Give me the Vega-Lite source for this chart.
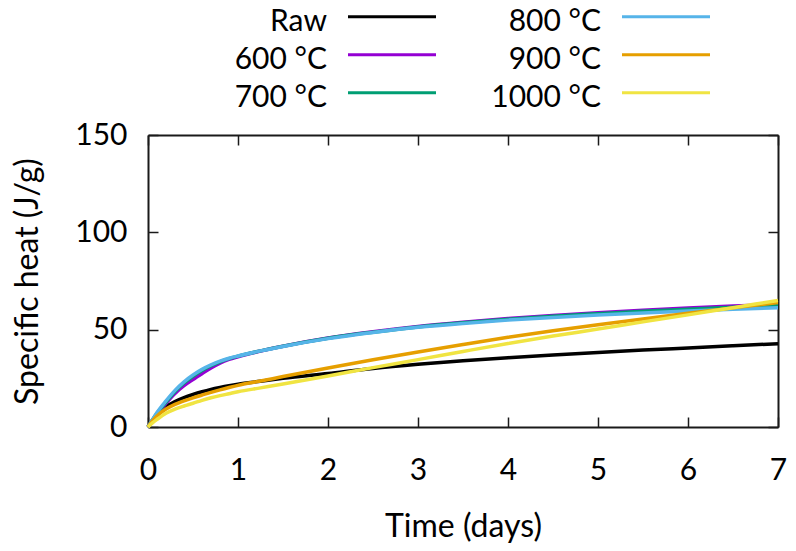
{
  "$schema": "https://vega.github.io/schema/vega-lite/v6.json",
  "width": 630,
  "height": 292,
  "autosize": {"type": "none"},
  "padding": {"left": 148, "top": 135, "right": 18, "bottom": 124},
  "background": "white",
  "config": {
    "view": {"stroke": null},
    "font": "Lato",
    "axis": {
      "labelFont": "Lato", "labelFontSize": 30, "labelColor": "#000000",
      "titleFont": "Lato", "titleFontSize": 32, "titleFontWeight": "normal", "titleColor": "#000000",
      "grid": false, "domainColor": "#1a1a1a", "domainWidth": 2,
      "tickColor": "#1a1a1a", "tickWidth": 1.5, "tickSize": -10
    }
  },
  "data": {
    "values": [
      {"t": 0, "Raw": 0, "600 °C": 0, "700 °C": 0, "800 °C": 0, "900 °C": 0, "1000 °C": 0},
      {"t": 0.05, "Raw": 3.6, "600 °C": 3.4, "700 °C": 3.6, "800 °C": 3.8, "900 °C": 3.1, "1000 °C": 2.1},
      {"t": 0.1, "Raw": 6.3, "600 °C": 6.6, "700 °C": 7.0, "800 °C": 7.4, "900 °C": 5.6, "1000 °C": 3.9},
      {"t": 0.2, "Raw": 10.4, "600 °C": 12.2, "700 °C": 12.8, "800 °C": 13.4, "900 °C": 9.2, "1000 °C": 7.1},
      {"t": 0.3, "Raw": 13.1, "600 °C": 17.2, "700 °C": 18.2, "800 °C": 18.8, "900 °C": 11.6, "1000 °C": 9.2},
      {"t": 0.4, "Raw": 15.1, "600 °C": 21.2, "700 °C": 22.6, "800 °C": 23.2, "900 °C": 13.4, "1000 °C": 10.8},
      {"t": 0.5, "Raw": 16.7, "600 °C": 24.4, "700 °C": 26.0, "800 °C": 26.7, "900 °C": 15.0, "1000 °C": 12.2},
      {"t": 0.6, "Raw": 18.1, "600 °C": 27.4, "700 °C": 29.0, "800 °C": 29.6, "900 °C": 16.4, "1000 °C": 13.7},
      {"t": 0.7, "Raw": 19.3, "600 °C": 30.3, "700 °C": 31.5, "800 °C": 31.9, "900 °C": 17.8, "1000 °C": 15.0},
      {"t": 0.8, "Raw": 20.3, "600 °C": 32.8, "700 °C": 33.5, "800 °C": 33.8, "900 °C": 19.1, "1000 °C": 16.1},
      {"t": 0.9, "Raw": 21.2, "600 °C": 34.7, "700 °C": 35.1, "800 °C": 35.3, "900 °C": 20.3, "1000 °C": 17.1},
      {"t": 1.0, "Raw": 22.0, "600 °C": 36.1, "700 °C": 36.4, "800 °C": 36.5, "900 °C": 21.4, "1000 °C": 18.1},
      {"t": 1.25, "Raw": 23.5, "600 °C": 39.0, "700 °C": 39.1, "800 °C": 39.1, "900 °C": 23.6, "1000 °C": 20.1},
      {"t": 1.5, "Raw": 25.0, "600 °C": 41.5, "700 °C": 41.5, "800 °C": 41.4, "900 °C": 25.9, "1000 °C": 22.1},
      {"t": 2, "Raw": 27.5, "600 °C": 45.7, "700 °C": 45.6, "800 °C": 45.4, "900 °C": 30.3, "1000 °C": 26.2},
      {"t": 2.5, "Raw": 30.1, "600 °C": 48.9, "700 °C": 48.7, "800 °C": 48.6, "900 °C": 34.5, "1000 °C": 30.5},
      {"t": 3, "Raw": 32.2, "600 °C": 51.6, "700 °C": 51.4, "800 °C": 51.2, "900 °C": 38.5, "1000 °C": 34.6},
      {"t": 3.5, "Raw": 34.0, "600 °C": 53.8, "700 °C": 53.5, "800 °C": 53.2, "900 °C": 42.4, "1000 °C": 38.8},
      {"t": 4, "Raw": 35.6, "600 °C": 55.7, "700 °C": 55.3, "800 °C": 54.9, "900 °C": 46.1, "1000 °C": 42.9},
      {"t": 4.5, "Raw": 37.0, "600 °C": 57.3, "700 °C": 56.9, "800 °C": 56.3, "900 °C": 49.4, "1000 °C": 46.7},
      {"t": 5, "Raw": 38.3, "600 °C": 58.7, "700 °C": 58.2, "800 °C": 57.5, "900 °C": 52.5, "1000 °C": 50.3},
      {"t": 5.5, "Raw": 39.5, "600 °C": 60.0, "700 °C": 59.4, "800 °C": 58.6, "900 °C": 55.5, "1000 °C": 54.0},
      {"t": 6, "Raw": 40.6, "600 °C": 61.1, "700 °C": 60.5, "800 °C": 59.6, "900 °C": 58.4, "1000 °C": 57.6},
      {"t": 6.5, "Raw": 41.7, "600 °C": 62.1, "700 °C": 61.5, "800 °C": 60.5, "900 °C": 61.2, "1000 °C": 61.3},
      {"t": 7, "Raw": 42.8, "600 °C": 63.0, "700 °C": 62.3, "800 °C": 61.3, "900 °C": 63.9, "1000 °C": 65.0}
    ]
  },
  "transform": [
    {"fold": ["Raw", "600 °C", "700 °C", "800 °C", "900 °C", "1000 °C"], "as": ["series", "value"]}
  ],
  "layer": [
    {
      "mark": {"type": "line", "interpolate": "monotone", "strokeWidth": 3.5},
      "encoding": {
        "x": {
          "field": "t", "type": "quantitative",
          "scale": {"domain": [0, 7], "nice": false, "zero": false},
          "axis": {"orient": "bottom", "values": [0, 1, 2, 3, 4, 5, 6, 7], "title": "Time (days)", "labelPadding": 38, "titlePadding": 26, "labelFlush": false}
        },
        "y": {
          "field": "value", "type": "quantitative",
          "scale": {"domain": [0, 150], "nice": false},
          "axis": {"orient": "left", "values": [0, 50, 100, 150], "title": "Specific heat (J/g)", "labelPadding": 31, "titlePadding": 30}
        },
        "color": {
          "field": "series", "type": "nominal",
          "scale": {
            "domain": ["Raw", "600 °C", "700 °C", "800 °C", "900 °C", "1000 °C"],
            "range": ["#000000", "#9400d3", "#009e73", "#56b4e9", "#e69f00", "#f0e442"]
          },
          "legend": {
            "orient": "none", "legendX": 229, "legendY": -133.3,
            "title": null, "padding": 0, "columns": 2, "columnPadding": 49, "rowPadding": 3,
            "gridAlign": "each",
            "symbolType": "M-4,0H4", "symbolSize": 484, "symbolStrokeWidth": 3,
            "symbolFillColor": "transparent",
            "labelAlign": "right", "labelOffset": -80, "labelFont": "Lato", "labelFontSize": 30,
            "labelColor": "#000000", "labelLimit": 400,
            "encode": {"labels": {"update": {"dy": {"value": 5}}}}
          }
        }
      }
    },
    {
      "mark": {"type": "point", "opacity": 0},
      "encoding": {
        "x": {"field": "t", "type": "quantitative", "axis": {"orient": "top", "values": [0, 1, 2, 3, 4, 5, 6, 7], "labels": false, "title": null}},
        "y": {"field": "value", "type": "quantitative", "axis": {"orient": "right", "values": [0, 50, 100, 150], "labels": false, "title": null}}
      }
    }
  ],
  "resolve": {"axis": {"x": "independent", "y": "independent"}}
}
